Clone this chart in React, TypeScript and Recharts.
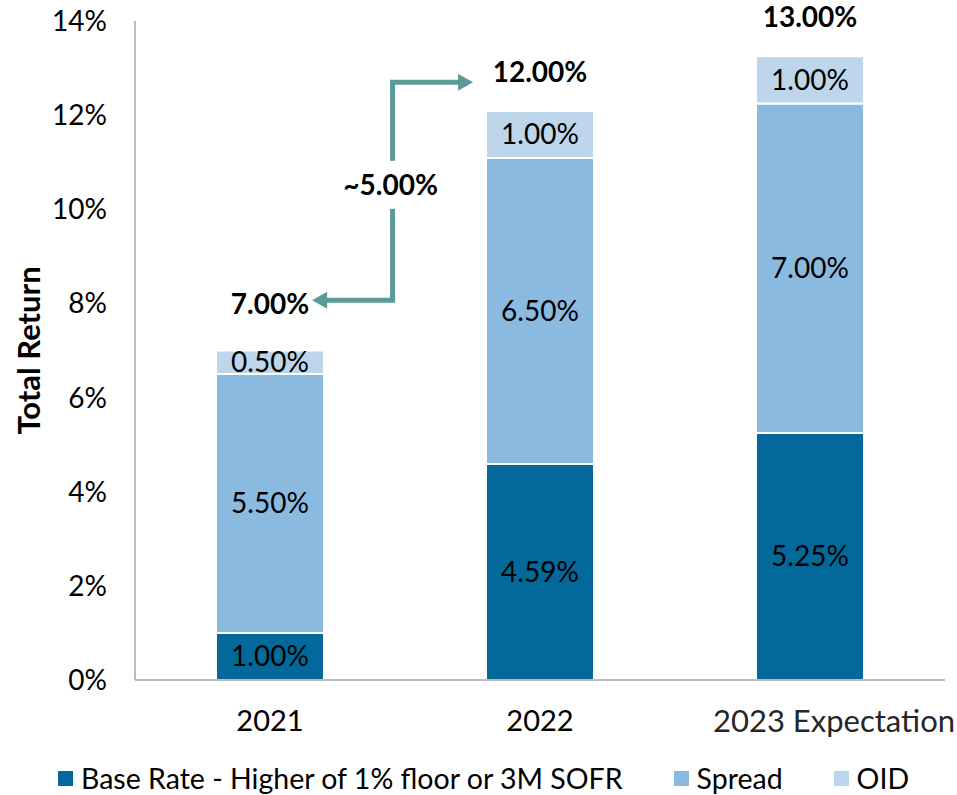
import React from 'react';
import { BarChart, Bar, XAxis, YAxis, LabelList, Legend, ReferenceLine } from 'recharts';

const categories = ['2021', '2022', '2023 Expectation'];
const baseRate = [1.0, 4.59, 5.25];
const spread = [5.5, 6.5, 7.0];
const oid = [0.5, 1.0, 1.0];
const totals = [7.0, 12.0, 13.0];
const yTicks = [0, 2, 4, 6, 8, 10, 12, 14];
const seriesNames = ['Base Rate - Higher of 1% floor or 3M SOFR', 'Spread', 'OID'];
const changeLabel = '~5.00%';

// annotation (elbow arrow from the 2021 total to the 2022 total)
const arrowFrom = { x: categories[0], y: 8.07 };
const arrowTo = { x: categories[1], y: 12.7 };
const arrowLeftFrac = 0.156; // fraction of the distance between the two bar centres
const arrowMidFrac = 0.454;
const arrowRightFrac = 0.752;
const changeLabelY = 10.52;

const data = categories.map((c, i) => ({
  name: c,
  base: baseRate[i],
  spread: spread[i],
  oid: oid[i],
  total: totals[i],
}));

const FONT = 'Lato, "Open Sans", sans-serif';
const COLORS = ['#02699a', '#8bbae0', '#bed6ec'];
const ARROW = '#5a9a98';

const fmt = (v: any) => `${Number(v).toFixed(2)}%`;

const ElbowArrow = (props: any) => {
  const { x1, y1, x2, y2 } = props;
  if ([x1, y1, x2, y2].some((v) => typeof v !== 'number' || isNaN(v))) return <g />;
  const w = x2 - x1;
  const leftTip = x1 + arrowLeftFrac * w;
  const midX = x1 + arrowMidFrac * w;
  const rightTip = x1 + arrowRightFrac * w;
  const labelY = y1 + ((changeLabelY - arrowFrom.y) / (arrowTo.y - arrowFrom.y)) * (y2 - y1);
  const len = 15;
  const half = 8.5;
  const sw = 5;
  const gap = 24;
  return (
    <g>
      <line x1={leftTip + len} y1={y1} x2={midX} y2={y1} stroke={ARROW} strokeWidth={sw} strokeLinecap="square" />
      <polygon points={`${leftTip},${y1} ${leftTip + len},${y1 - half} ${leftTip + len},${y1 + half}`} fill={ARROW} />
      <line x1={midX} y1={y1} x2={midX} y2={labelY + gap} stroke={ARROW} strokeWidth={sw} strokeLinecap="butt" />
      <line x1={midX} y1={labelY - gap} x2={midX} y2={y2} stroke={ARROW} strokeWidth={sw} strokeLinecap="butt" />
      <line x1={midX} y1={y2} x2={rightTip - len} y2={y2} stroke={ARROW} strokeWidth={sw} strokeLinecap="square" />
      <polygon points={`${rightTip},${y2} ${rightTip - len},${y2 - half} ${rightTip - len},${y2 + half}`} fill={ARROW} />
      <text
        x={midX - 2}
        y={labelY}
        dy="0.35em"
        textAnchor="middle"
        fontFamily={FONT}
        fontSize={28}
        fontWeight={700}
        fill="#000"
      >
        {changeLabel}
      </text>
    </g>
  );
};

const XTick = (props: any) => {
  const { x, y, payload } = props;
  const isLast = payload.value === categories[categories.length - 1];
  return (
    <text
      x={x + (isLast ? 24 : 0)}
      y={y}
      dy="0.71em"
      textAnchor="middle"
      fontFamily={FONT}
      fontSize={isLast ? 31 : 29}
      fill={isLast ? '#262626' : '#000'}
    >
      {payload.value}
    </text>
  );
};

const TotalLabel = (props: any) => {
  const { x, y, width, index } = props;
  return (
    <text
      x={x + width / 2}
      y={y - (index === 0 ? 46 : 39)}
      dy="0.35em"
      textAnchor="middle"
      fontFamily={FONT}
      fontSize={28}
      fontWeight={700}
      fill="#000"
    >
      {fmt(totals[index])}
    </text>
  );
};

const renderLegend = () => {
  const gaps = [0, 51, 51];
  return (
    <div
      style={{
        display: 'flex',
        justifyContent: 'flex-start',
        alignItems: 'center',
        paddingLeft: 58,
        height: 34,
        fontFamily: FONT,
        fontSize: 28.5,
        color: '#000',
        whiteSpace: 'nowrap',
      }}
    >
      {seriesNames.map((name, i) => (
        <div key={name} style={{ display: 'flex', alignItems: 'center', marginLeft: gaps[i] }}>
          <span style={{ display: 'inline-block', width: 15, height: 15, background: COLORS[i], marginRight: 8 }} />
          <span>{name}</span>
        </div>
      ))}
    </div>
  );
};

export default function App() {
  return (
    <div style={{ position: 'absolute', left: 0, top: 0, fontFamily: FONT }}>
      <BarChart
        width={957}
        height={795}
        data={data}
        margin={{ top: 21, right: 12, left: 0, bottom: 0 }}
        barSize={108}
      >
        <XAxis
          dataKey="name"
          height={81}
          axisLine={{ stroke: '#a6a6a6', strokeWidth: 1.5 }}
          tickLine={false}
          tickSize={0}
          tickMargin={30}
          tick={<XTick />}
          interval={0}
        />
        <YAxis
          width={135}
          domain={[0, 14]}
          ticks={yTicks}
          interval={0}
          tickFormatter={(v: number) => `${v}%`}
          axisLine={{ stroke: '#a6a6a6', strokeWidth: 1.5 }}
          tickLine={false}
          tickSize={0}
          tickMargin={28}
          tick={{ fill: '#000', fontSize: 28, fontFamily: FONT }}
          label={{
            content: (p: any) => {
              const vb = p.viewBox || {};
              const cx = (vb.x || 0) + 28;
              const cy = (vb.y || 0) + (vb.height || 0) / 2;
              return (
                <text
                  x={cx}
                  y={cy}
                  transform={`rotate(-90, ${cx}, ${cy})`}
                  textAnchor="middle"
                  dominantBaseline="central"
                  fontFamily={FONT}
                  fontSize={31}
                  fontWeight={700}
                  fill="#000"
                >
                  Total Return
                </text>
              );
            },
          }}
        />
        <Legend verticalAlign="bottom" content={renderLegend} wrapperStyle={{ height: 34, width: 957, left: 0 }} />
        <Bar dataKey="base" name={seriesNames[0]} stackId="a" fill={COLORS[0]} stroke="#fff" strokeWidth={2} isAnimationActive={false}>
          <LabelList dataKey="base" position="center" formatter={fmt} fill="#000" fontSize={28} fontFamily={FONT} />
        </Bar>
        <Bar dataKey="spread" name={seriesNames[1]} stackId="a" fill={COLORS[1]} stroke="#fff" strokeWidth={2} isAnimationActive={false}>
          <LabelList dataKey="spread" position="center" formatter={fmt} fill="#000" fontSize={28} fontFamily={FONT} />
        </Bar>
        <Bar dataKey="oid" name={seriesNames[2]} stackId="a" fill={COLORS[2]} stroke="#fff" strokeWidth={2} isAnimationActive={false}>
          <LabelList dataKey="oid" position="center" formatter={fmt} fill="#000" fontSize={28} fontFamily={FONT} />
          <LabelList dataKey="total" content={<TotalLabel />} />
        </Bar>
        <ReferenceLine ifOverflow="visible" segment={[arrowFrom, arrowTo]} shape={(p: any) => <ElbowArrow {...p} />} />
      </BarChart>
    </div>
  );
}
